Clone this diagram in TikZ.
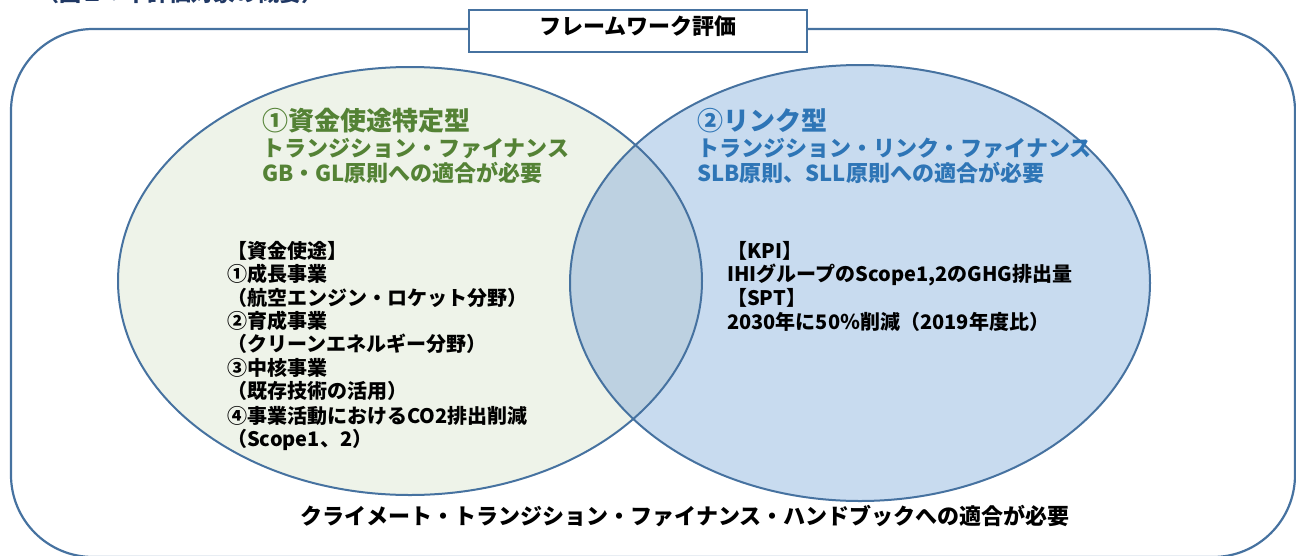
\documentclass[tikz,border=0pt]{standalone}
\usepackage{fontspec}
\setmainfont{Noto Sans CJK JP}
\definecolor{edge}{HTML}{4672A0}
\definecolor{gfill}{HTML}{EEF3E9}
\definecolor{bfill}{HTML}{C8DBEF}
\definecolor{ofill}{HTML}{BDD1E1}
\definecolor{gtext}{HTML}{548235}
\definecolor{btext}{HTML}{2E75B6}
\definecolor{navy}{HTML}{203864}
\begin{document}
\begin{tikzpicture}[x=1pt,y=-1pt,
  outl/.style={draw=edge, line width=2pt},
  txt/.style={anchor=west, inner sep=0pt, text height=0.88em, text depth=0.12em},
  body/.style={txt, font=\bfseries\fontsize{20}{20}\selectfont},
  head/.style={txt, font=\bfseries\fontsize{26}{26}\selectfont},
  sub/.style={txt, font=\bfseries\fontsize{22}{22}\selectfont}]
\useasboundingbox (0,0) rectangle (1296,555);
\clip (0,0) rectangle (1296,555);
% outer frame
\draw[outl, line width=2.2pt, rounded corners=82pt] (11,29) rectangle (1295,557);
% ellipses
\fill[gfill] (410,281) ellipse [x radius=292pt, y radius=214pt];
\fill[bfill] (860,283) ellipse [x radius=290pt, y radius=218pt];
\begin{scope}
  \clip (410,281) ellipse [x radius=292pt, y radius=214pt];
  \fill[ofill] (860,283) ellipse [x radius=290pt, y radius=218pt];
\end{scope}
\draw[outl] (410,281) ellipse [x radius=292pt, y radius=214pt];
\draw[outl] (860,283) ellipse [x radius=290pt, y radius=218pt];
% title box
\node[draw=edge, line width=1.6pt, fill=white, minimum width=338pt, minimum height=42pt,
      inner sep=0pt, text height=0.88em, text depth=0.12em,
      font=\bfseries\fontsize{22}{22}\selectfont] (title) at (638,31) {フレームワーク評価};
% caption (cut off at top)
\node[txt, text=navy, font=\bfseries\fontsize{22}{22}\selectfont] (cap) at (37,-2) {（図１：本評価対象の概要）};
% left headings
\node[head, text=gtext] (lh1) at (262,127) {①資金使途特定型};
\node[sub, text=gtext] (lh2) at (262,153) {トランジション・ファイナンス};
\node[sub, text=gtext] (lh3) at (262,178) {GB・GL原則への適合が必要};
% right headings
\node[head, text=btext] (rh1) at (697,127) {②リンク型};
\node[sub, text=btext] (rh2) at (697,153) {トランジション・リンク・ファイナンス};
\node[sub, text=btext] (rh3) at (697,178) {SLB原則、SLL原則への適合が必要};
% left body
\node[body] (l1) at (227,255) {【資金使途】};
\node[body] (l2) at (227,278) {①成長事業};
\node[body] (l3) at (227,302) {（航空エンジン・ロケット分野）};
\node[body] (l4) at (227,325) {②育成事業};
\node[body] (l5) at (227,348) {（クリーンエネルギー分野）};
\node[body] (l6) at (227,372) {③中核事業};
\node[body] (l7) at (227,395) {（既存技術の活用）};
\node[body] (l8) at (227,420) {④事業活動におけるCO2排出削減};
\node[body] (l9) at (227,443) {（Scope1、2）};
% right body
\node[body] (r1) at (727,255) {【KPI】};
\node[body] (r2) at (727,278) {IHIグループのScope1,2のGHG排出量};
\node[body] (r3) at (727,302) {【SPT】};
\node[body] (r4) at (727,326) {2030年に50％削減（2019年度比）};
% footer
\node[inner sep=0pt, text height=0.88em, text depth=0.12em,
      font=\bfseries\fontsize{22}{22}\selectfont] (foot) at (685,521)
  {クライメート・トランジション・ファイナンス・ハンドブックへの適合が必要};
\end{tikzpicture}
\end{document}
